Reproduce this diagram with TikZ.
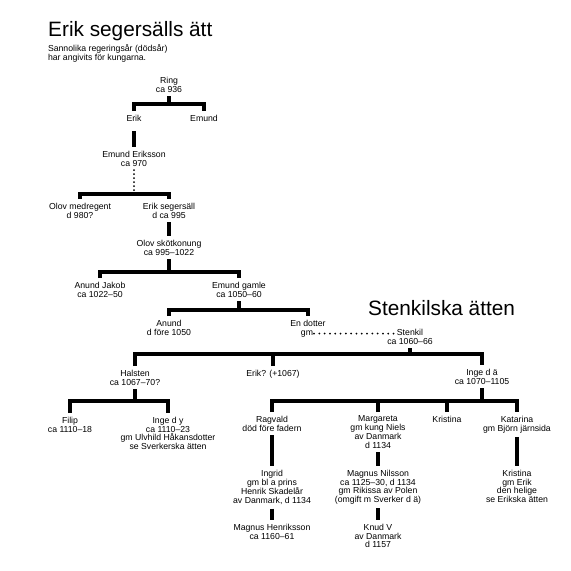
\documentclass[tikz,border=0pt]{standalone}
\usepackage{fontspec}
\setmainfont{Liberation Sans}
\usetikzlibrary{calc}

\begin{document}
\begin{tikzpicture}[x=1pt,y=-1pt,
  person/.style={font=\fontsize{8.7}{8.7}\selectfont, align=center, inner sep=0pt, outer sep=4pt, anchor=north},
  heading/.style={font=\fontsize{20.8}{24}\selectfont, inner sep=0pt, anchor=base west},
  tie/.style={line width=3.2pt},
  dotline/.style={line width=2pt, line cap=round, dash pattern=on 0pt off #1},
  dotline/.default=4pt]
  \useasboundingbox (0,0) rectangle (571,571);
  \fill[white] (0,0) rectangle (571,571);
  \node[heading] (erikatt) at (48,36) {Erik segersälls ätt};
  \node[person, anchor=north west, align=left, outer sep=0pt] (note) at (48,44.9) {Sannolika regeringsår (dödsår)\\har angivits för kungarna.};
  \node[heading] (stenatt) at (368,315) {Stenkilska ätten};

  \node[person] (ring) at (169,73) {Ring\\ca 936};
  \node[person] (erik) at (134,111) {Erik};
  \node[person] (emund) at (204,111) {Emund};
  \node[person] (emunde) at (134,147) {Emund Eriksson\\ca 970};
  \node[person] (olovm) at (80,199) {Olov medregent\\d 980?};
  \node[person] (eriks) at (169,199) {Erik segersäll\\d ca 995};
  \node[person] (olovs) at (169,236) {Olov skötkonung\\ca 995–1022};
  \node[person] (anundj) at (100,278) {Anund Jakob\\ca 1022–50};
  \node[person] (emundg) at (239,278) {Emund gamle\\ca 1050–60};
  \node[person] (anund) at (169,316) {Anund\\d före 1050};
  \node[person] (dotter) at (308,316) {En dotter};
  \node[person, anchor=base, outer sep=1pt] (gm) at (307,335) {gm};
  \node[person] (stenkil) at (410,325) {Stenkil\\ca 1060–66};
  \node[person] (halsten) at (135,366) {Halsten\\ca 1067–70?};
  \node[person] (erikq) at (273,366) {Erik? (+1067)};
  \node[person] (inge) at (482,365) {Inge d ä\\ca 1070–1105};
  \node[person] (filip) at (70,413) {Filip\\ca 1110–18};
  \node[person] (ingey) at (168,413) {Inge d y\\ca 1110–23\\gm Ulvhild Håkansdotter\\se Sverkerska ätten};
  \node[person] (ragvald) at (272,412) {Ragvald\\död före fadern};
  \node[person] (margareta) at (378,412) {Margareta\\gm kung Niels\\av Danmark\\d 1134};
  \node[person] (kristina) at (447,412) {Kristina};
  \node[person] (katarina) at (517,412) {Katarina\\gm Björn järnsida};
  \node[person] (ingrid) at (272,466) {Ingrid\\gm bl a prins\\Henrik Skadelår\\av Danmark, d 1134};
  \node[person] (magnusn) at (378,466) {Magnus Nilsson\\ca 1125–30, d 1134\\gm Rikissa av Polen\\(omgift m Sverker d ä)};
  \node[person] (kristinab) at (517,466) {Kristina\\gm Erik\\den helige\\se Erikska ätten};
  \node[person] (magnush) at (272,520) {Magnus Henriksson\\ca 1160–61};
  \node[person] (knud) at (378,520) {Knud V\\av Danmark\\d 1157};

  \draw[tie] (ring.south) -- ++(0,8) coordinate (ringbar);
  \draw[tie] (erik.north) |- (ringbar) -| (emund.north);
  \draw[tie] ([yshift=-6pt]erik.south) -- (emunde.north);
  \draw[dotline] (emunde.south) -- ++(0,24) coordinate (emundebar);
  \draw[tie] (olovm.north) |- (emundebar) -| (eriks.north);
  \draw[tie] (eriks.south) -- (olovs.north);
  \draw[tie] (olovs.south) -- ++(0,13) coordinate (olovsbar);
  \draw[tie] (anundj.north) |- (olovsbar) -| (emundg.north);
  \draw[tie] (emundg.south) -- ++(0,9) coordinate (emundgbar);
  \draw[tie] (anund.north) |- (emundgbar) -| (dotter.north);
  \draw[dotline=5.3pt] (gm.east) -- ($(gm.east -| stenkil.north)+(-14,0)$);
  \draw[tie] (stenkil.south) -- ++(0,6) coordinate (stenkilbar);
  \draw[tie] (halsten.north) |- (stenkilbar) -| (inge.north);
  \draw[tie] (erikq.north) -- (erikq.north |- stenkilbar);
  \draw[tie] (halsten.south) -- ++(0,12) coordinate (halstenbar);
  \draw[tie] (filip.north) |- (halstenbar) -| (ingey.north);
  \draw[tie] (inge.south) -- ++(0,13) coordinate (ingebar);
  \draw[tie] (ragvald.north) |- (ingebar) -| (katarina.north);
  \draw[tie] (margareta.north) -- (margareta.north |- ingebar);
  \draw[tie] (kristina.north) -- (kristina.north |- ingebar);
  \draw[tie] (ragvald.south) -- (ingrid.north);
  \draw[tie] (margareta.south) -- (magnusn.north);
  \draw[tie] (katarina.south) -- (kristinab.north);
  \draw[tie] (ingrid.south) -- (magnush.north);
  \draw[tie] (magnusn.south) -- (knud.north);
\end{tikzpicture}
\end{document}
